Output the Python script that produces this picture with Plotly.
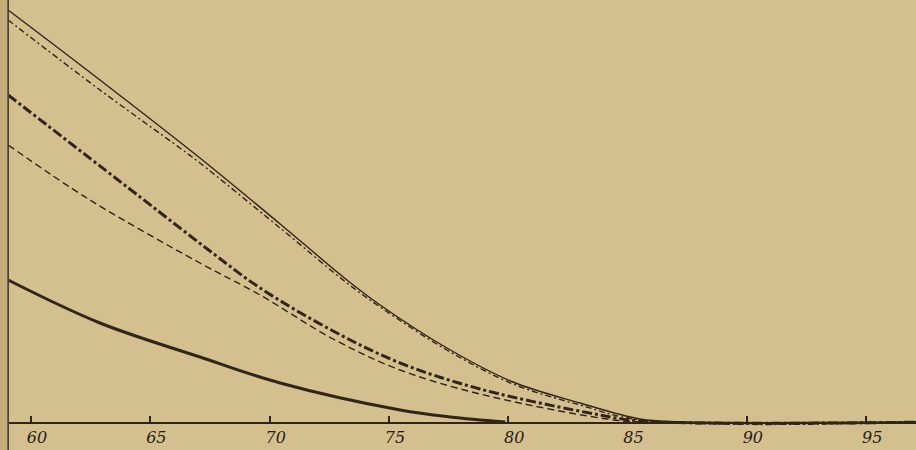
import plotly.graph_objects as go

# x values (degrees) and y values (arbitrary units)
a_x = [59.04, 62.89, 67.08, 70.44, 73.24, 74.63, 77.43, 80.20, 83.01, 85.52, 87.2, 97.09]
a_y = [103.25, 85.75, 66.25, 49.75, 35.75, 29.5, 18.75, 10.25, 5.0, 1.0, 0.3, 0.3]

b_x = [59.04, 62.89, 66.24, 67.08, 70.44, 73.24, 74.63, 77.43, 80.20, 83.01, 85.52, 97.09]
b_y = [100.75, 83.25, 68.75, 65.0, 48.75, 35.0, 29.0, 18.25, 9.75, 4.5, 0.75, 0.15]

c_x = [59.04, 64.57, 67.5, 69.6, 72.66, 75.47, 78.82, 83.85, 85.52, 97.09]
c_y = [82.0, 56.5, 43.0, 33.75, 23.0, 15.0, 8.5, 2.0, 0.5, 0.2]

d_x = [59.04, 62.47, 67.08, 69.6, 72.66, 75.47, 78.82, 83.85, 85.52, 97.09]
d_y = [69.5, 55.75, 40.0, 32.0, 21.0, 13.25, 7.25, 1.25, 0.25, 0.05]

e_x = [59.04, 62.89, 67.08, 70.44, 75.47, 77.56, 79.87]
e_y = [35.75, 25.0, 16.5, 10.0, 3.25, 1.5, 0.25]

tick_vals = [60, 65, 70, 75, 80, 85, 90, 95]
tick_text = ["60", "65", "70", "75", "80", "85", "90", "95"]

ink = "#33241a"
bg = "#d4bf8e"

fig = go.Figure()
series = [
    (a_x, a_y, 1.4, "solid"),
    (b_x, b_y, 1.4, "6px,3px,2px,3px"),
    (c_x, c_y, 3.0, "10px,3px,3px,3px"),
    (d_x, d_y, 1.4, "7px,4px"),
    (e_x, e_y, 3.0, "solid"),
]
for xs, ys, w, dash in series:
    fig.add_trace(go.Scatter(x=xs, y=ys, mode="lines",
                             line=dict(color=ink, width=w, dash=dash, shape="spline", smoothing=1.0),
                             showlegend=False, hoverinfo="skip"))

# darker margin strip left of the vertical axis
fig.add_shape(type="rect", xref="paper", yref="paper", x0=0, x1=0.008, y0=0, y1=1,
              fillcolor="#c2ac7a", line_width=0, layer="above")

fig.update_layout(
    width=916, height=450,
    margin=dict(l=0, r=0, t=0, b=0, pad=0, autoexpand=False),
    paper_bgcolor=bg, plot_bgcolor=bg,
    xaxis=dict(range=[58.70, 97.09], tickvals=tick_vals, ticktext=tick_text,
               showgrid=False, zeroline=False, showline=True, linecolor=ink, linewidth=1.5,
               ticks="inside", ticklen=6, tickwidth=1.5, tickcolor=ink, automargin=False,
               anchor="free", position=0.06, ticklabelshift=6, ticklabelstandoff=0,
               tickfont=dict(family="DejaVu Serif", size=16, color="#2a1d14", style="italic")),
    yaxis=dict(range=[-6.75, 105.75], showgrid=False, zeroline=False, showticklabels=False,
               ticks="", showline=True, linecolor="#4a4036", linewidth=1.5, automargin=False,
               anchor="free", position=0.0087),
)

fig.write_html("out.html", config={"displayModeBar": False},
               post_script="document.body.style.margin='0';document.body.style.background='%s';" % bg)
